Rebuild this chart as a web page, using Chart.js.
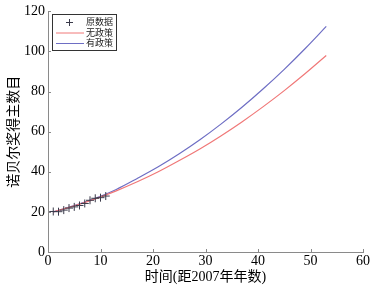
<!DOCTYPE html>
<html>
<head>
  <meta charset="utf-8">
  <title>诺贝尔奖得主数目</title>
  <script src="https://cdn.jsdelivr.net/npm/chart.js"></script>
  <style>
    html, body { margin: 0; padding: 0; background: #fff; }
  </style>
</head>
<body>
  <canvas id="nobelChart" width="373" height="296"></canvas>

  <script>
    // original data: years since 2007 and number of laureates
    const dataYears = [1, 2, 3, 4, 5, 6, 7, 8, 9, 10, 11];
    const dataCounts = [20.2, 20.1, 20.9, 21.9, 22.5, 23.2, 24.2, 25.8, 26.8, 27.1, 27.9];

    // fitted curves
    const curveYears = [1, 5, 9, 13, 17, 21, 25, 29, 33, 37, 41, 45, 49, 53];
    const noPolicy = [20, 23.0, 26.5, 30.5, 35.0, 40.0, 45.6, 51.5, 58.0, 65.0, 72.5, 80.5, 89.0, 98.0];
    const withPolicy = [20, 23.1, 26.8, 31.2, 36.7, 42.5, 49.0, 56.1, 63.9, 72.3, 81.4, 91.1, 101.5, 112.5];

    const xTicks = [0, 10, 20, 30, 40, 50, 60];
    const yTicks = [0, 20, 40, 60, 80, 100, 120];

    const seriesNames = ['原数据', '无政策', '有政策'];
    const xTitle = '时间(距2007年年数)';
    const yTitle = '诺贝尔奖得主数目';

    const serif = '"Liberation Serif", "Noto Sans CJK SC", serif';
    const axisColor = '#8a8a8a';

    const toPoints = (xs, ys) => xs.map((x, i) => ({ x: x, y: ys[i] }));

    // inward tick marks + legend box in the top left corner
    const matlabBits = {
      id: 'matlabBits',
      afterDraw(chart) {
        const ctx = chart.ctx;
        const xs = chart.scales.x, ys = chart.scales.y;
        const area = chart.chartArea;
        ctx.save();
        ctx.strokeStyle = axisColor;
        ctx.lineWidth = 1;
        ctx.beginPath();
        xTicks.forEach(v => {
          const px = Math.round(xs.getPixelForValue(v)) + 0.5;
          ctx.moveTo(px, area.bottom);
          ctx.lineTo(px, area.bottom - 3);
        });
        yTicks.forEach(v => {
          const py = Math.round(ys.getPixelForValue(v)) + 0.5;
          ctx.moveTo(area.left, py);
          ctx.lineTo(area.left + 3, py);
        });
        ctx.stroke();

        // legend
        const bx = 52.5, by = 14.5, bw = 64, bh = 36;
        ctx.fillStyle = '#fff';
        ctx.fillRect(bx, by, bw, bh);
        ctx.strokeStyle = '#333';
        ctx.strokeRect(bx, by, bw, bh);
        ctx.font = '9px ' + serif;
        ctx.textBaseline = 'middle';
        ctx.textAlign = 'left';
        const rows = [22.5, 33, 43.5];
        chart.data.datasets.forEach((ds, i) => {
          const ry = rows[i];
          ctx.strokeStyle = ds.borderColor;
          ctx.beginPath();
          if (i === 0) {
            ctx.moveTo(66, ry); ctx.lineTo(73, ry);
            ctx.moveTo(69.5, ry - 3.5); ctx.lineTo(69.5, ry + 3.5);
          } else {
            ctx.moveTo(56, ry); ctx.lineTo(84, ry);
          }
          ctx.stroke();
          ctx.fillStyle = '#222';
          ctx.fillText(ds.label, 86, ry + 0.5);
        });
        ctx.restore();
      }
    };

    new Chart(document.getElementById('nobelChart'), {
      type: 'scatter',
      data: {
        datasets: [{
          label: seriesNames[0],
          data: toPoints(dataYears, dataCounts),
          pointStyle: 'cross',
          radius: 4,
          borderColor: '#3a3a4a',
          borderWidth: 1,
          showLine: false
        }, {
          label: seriesNames[1],
          data: toPoints(curveYears, noPolicy),
          showLine: true,
          borderColor: '#f07878',
          borderWidth: 1.2,
          pointRadius: 0,
          cubicInterpolationMode: 'monotone'
        }, {
          label: seriesNames[2],
          data: toPoints(curveYears, withPolicy),
          showLine: true,
          borderColor: '#6e6ec4',
          borderWidth: 1.2,
          pointRadius: 0,
          cubicInterpolationMode: 'monotone'
        }]
      },
      options: {
        responsive: false,
        animation: false,
        layout: { padding: { top: 7, right: 10, left: 0, bottom: 10 } },
        plugins: {
          legend: { display: false },
          tooltip: { enabled: false }
        },
        scales: {
          x: {
            type: 'linear',
            min: 0, max: 60,
            afterBuildTicks: s => { s.ticks = xTicks.map(v => ({ value: v })); },
            afterFit: s => { s.height = 34; },
            grid: { display: false, drawTicks: false },
            border: { display: true, color: axisColor, width: 1 },
            ticks: { color: '#000', padding: 1, maxRotation: 0, font: { family: serif, size: 14 } },
            title: { display: true, text: xTitle, color: '#000', padding: { top: 0, bottom: 0 }, font: { family: serif, size: 14 } }
          },
          y: {
            min: 0, max: 120,
            afterBuildTicks: s => { s.ticks = yTicks.map(v => ({ value: v })); },
            afterFit: s => { s.width = 48; },
            grid: { display: false, drawTicks: false },
            border: { display: true, color: axisColor, width: 1 },
            ticks: { color: '#000', padding: 3, font: { family: serif, size: 14 } },
            title: { display: true, text: yTitle, color: '#000', padding: { top: 6, bottom: 0 }, font: { family: serif, size: 14 } }
          }
        }
      },
      plugins: [matlabBits]
    });
  </script>
</body>
</html>
